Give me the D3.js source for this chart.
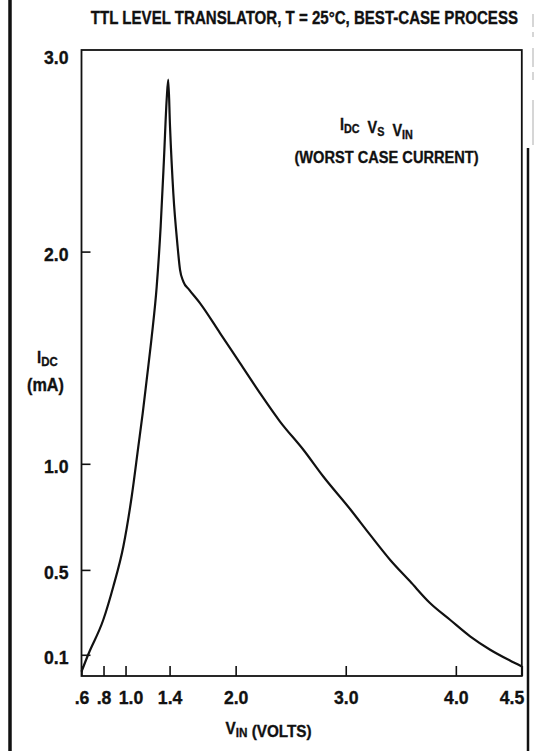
<!DOCTYPE html>
<html>
<head>
<meta charset="utf-8">
<script src="https://cdn.jsdelivr.net/npm/d3@7"></script>
<style>
  html, body { margin: 0; padding: 0; background: #fff; }
  svg { display: block; }
  text {
    font-family: "Liberation Sans", Arial, Helvetica, sans-serif;
    font-weight: bold;
    fill: #111;
    stroke: #111;
    stroke-width: 0.35px;
  }
</style>
</head>
<body>
<svg id="chart" width="540" height="751"></svg>
<script>
// Supply current I_DC (mA) against input voltage V_IN (V)
const vIn = [0.60, 0.66, 0.798, 0.889, 0.98, 1.056, 1.116, 1.156, 1.192, 1.238, 1.283, 1.319, 1.349, 1.374, 1.388,
             1.404, 1.434, 1.47, 1.495, 1.525, 1.579, 1.676, 1.858, 2.04, 2.221, 2.403, 2.615, 2.796, 3.039,
             3.22, 3.402, 3.584, 3.765, 3.947, 4.108, 4.26, 4.41, 4.5];
const iDc = [0.02, 0.10, 0.265, 0.422, 0.61, 0.846, 1.081, 1.239, 1.396, 1.60, 1.835, 2.118, 2.436, 2.72, 2.81,
             2.589, 2.275, 2.04, 1.914, 1.859, 1.82, 1.757, 1.616, 1.474, 1.333, 1.199, 1.066, 0.94, 0.787,
             0.666, 0.548, 0.446, 0.344, 0.265, 0.187, 0.124, 0.073, 0.045];

const xTicks = [0.6, 0.8, 1.0, 1.4, 2.0, 3.0, 4.0, 4.5];
const xTickLabels = [".6", ".8", "1.0", "1.4", "2.0", "3.0", "4.0", "4.5"];
const yTicks = [0.1, 0.5, 1.0, 2.0];
const yTickLabels = ["0.1", "0.5", "1.0", "2.0"];
const yTopLabel = "3.0";
const yMax = 2.95;

const titleText = "TTL LEVEL TRANSLATOR, T = 25°C, BEST-CASE PROCESS";

// plot frame
const plotL = 81.5, plotR = 521.8, plotT = 50, plotB = 676;
const xUnit = 110.1;   // px per volt over the evenly spaced part of the axis

const svg = d3.select("#chart");

const x = d3.scaleLinear()
  .domain([0.6, 4.0, 4.5])
  .range([plotL, plotL + (4.0 - 0.6) * xUnit, plotR]);
const y = d3.scaleLinear().domain([0, yMax]).range([plotB, plotT]);

// squeeze text horizontally about its anchor point (condensed lettering)
function condense(sel, k) {
  sel.each(function () {
    const t = d3.select(this);
    const ax = +t.attr("x") || 0;
    t.attr("transform", `translate(${ax},0) scale(${k},1) translate(${-ax},0)`);
  });
  return sel;
}

// page borders
svg.append("line").attr("x1", 10).attr("x2", 10).attr("y1", 0).attr("y2", 751)
  .attr("stroke", "#111").attr("stroke-width", 3.5);
svg.append("line").attr("x1", 528).attr("x2", 528).attr("y1", 148).attr("y2", 751)
  .attr("stroke", "#111").attr("stroke-width", 2.5);
[[14, 27], [32, 37], [48, 67], [72, 80], [100, 145]].forEach(([a, b]) => {
  svg.append("line").attr("x1", 533).attr("x2", 533).attr("y1", a).attr("y2", b)
    .attr("stroke", "#c8c8c8").attr("stroke-width", 1.5);
});

// title
condense(svg.append("text").attr("x", 518).attr("y", 24).attr("text-anchor", "end")
  .attr("font-size", 18.5).text(titleText), 0.815);

// frame
svg.append("rect").attr("x", plotL).attr("y", plotT)
  .attr("width", plotR - plotL).attr("height", plotB - plotT)
  .attr("fill", "none").attr("stroke", "#111").attr("stroke-width", 1.8);

// x axis (ticks pointing into the plot)
const gx = svg.append("g").attr("transform", `translate(0,${plotB})`)
  .call(d3.axisBottom(x).tickValues(xTicks)
    .tickFormat((d, i) => xTickLabels[i]).tickSize(-10).tickPadding(0));
gx.attr("font-family", null).attr("font-size", null);
gx.select(".domain").remove();
gx.selectAll(".tick line").attr("stroke", "#111").attr("stroke-width", 1.6);
gx.selectAll(".tick text")
  .attr("y", 28).attr("dy", null)
  .attr("font-size", 19).attr("fill", "#111");
// crowded labels at the low end: nudge 1.0 clear of .8; 4.5 sits inside the corner
gx.selectAll(".tick text").filter(d => d === 1.0).attr("x", 5);
gx.selectAll(".tick text").filter(d => d === 4.5).attr("text-anchor", "end").attr("x", 2);
condense(gx.selectAll(".tick text"), 0.93);

// y axis
const gy = svg.append("g").attr("transform", `translate(${plotL},0)`)
  .call(d3.axisLeft(y).tickValues(yTicks)
    .tickFormat((d, i) => yTickLabels[i]).tickSize(-9).tickPadding(13));
gy.attr("font-family", null).attr("font-size", null);
gy.select(".domain").remove();
gy.selectAll(".tick line").attr("stroke", "#111").attr("stroke-width", 1.6);
gy.selectAll(".tick text").attr("dy", "0.45em").attr("font-size", 19).attr("fill", "#111");
condense(gy.selectAll(".tick text"), 0.93);

condense(svg.append("text").attr("x", plotL - 13).attr("y", plotT + 14)
  .attr("text-anchor", "end").attr("font-size", 19).text(yTopLabel), 0.93);

// text with subscripts
function subText(sel, parts, size, subSize) {
  parts.forEach(([txt, sub]) => {
    sel.append("tspan").attr("font-size", size).text(txt);
    if (sub) {
      sel.append("tspan").attr("font-size", subSize).attr("dy", 3).text(sub);
      sel.append("tspan").attr("font-size", size).attr("dy", -3).text("");
    }
  });
  return sel;
}

// axis titles
condense(subText(svg.append("text").attr("x", 37).attr("y", 363), [["I", "DC"]], 17, 13), 0.88);
condense(svg.append("text").attr("x", 45.5).attr("y", 391).attr("text-anchor", "middle")
  .attr("font-size", 18).text("(mA)"), 0.9);
condense(subText(svg.append("text").attr("x", 225.5).attr("y", 734),
  [["V", "IN"], [" (VOLTS)", null]], 17, 13), 0.9);

// in-plot caption
condense(subText(svg.append("text").attr("x", 340).attr("y", 130),
  [["I", "DC"], ["\u00A0\u00A0V", "S"], ["\u00A0\u00A0V", "IN"]], 16, 12), 0.9);
condense(svg.append("text").attr("x", 386.5).attr("y", 163).attr("text-anchor", "middle")
  .attr("font-size", 17).text("(WORST CASE CURRENT)"), 0.86);

// curve
const pts = vIn.map((v, i) => [v, iDc[i]]);
const line = d3.line().x(d => x(d[0])).y(d => y(d[1])).curve(d3.curveMonotoneX);
svg.append("path").datum(pts).attr("d", line)
  .attr("fill", "none").attr("stroke", "#111").attr("stroke-width", 2.2)
  .attr("stroke-linejoin", "round");
</script>
</body>
</html>
